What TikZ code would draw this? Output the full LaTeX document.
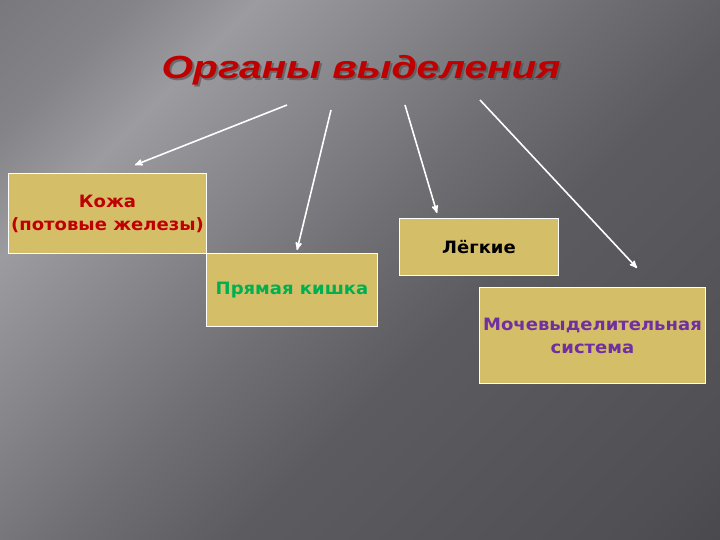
\documentclass[tikz,border=0pt]{standalone}
\usepackage{fontspec}
\setmainfont{DejaVu Sans}
\newfontfamily\titlefont[FakeStretch=1.27]{Liberation Sans}
\newfontfamily\boxfont[FakeStretch=1.06]{DejaVu Sans}
\usetikzlibrary{arrows}

\definecolor{boxfill}{RGB}{212,190,104}
\definecolor{skinred}{RGB}{192,0,0}
\definecolor{gutgreen}{RGB}{0,176,80}
\definecolor{urinepurple}{RGB}{112,48,160}
\definecolor{bgA}{RGB}{58,58,62}
\definecolor{bgB}{RGB}{80,80,84}
\definecolor{bgC}{RGB}{92,92,96}
\definecolor{bgD}{RGB}{112,112,116}
\definecolor{bgE}{RGB}{140,140,144}
\definecolor{bgF}{RGB}{156,156,160}
\definecolor{bgG}{RGB}{132,132,136}
\definecolor{bgH}{RGB}{100,100,104}

\pgfdeclareverticalshading{slidebg}{100bp}{color(0bp)=(bgA); color(20bp)=(bgB);
  color(42bp)=(bgC); color(52bp)=(bgD); color(64bp)=(bgE); color(71bp)=(bgF);
  color(78bp)=(bgG); color(100bp)=(bgH)}

\begin{document}
\begin{tikzpicture}[x=1pt,y=-1pt,
                    main node/.style={draw=white,line width=1pt,fill=boxfill,
                      anchor=north west,align=center,inner sep=0pt,
                      font=\boxfont\bfseries\fontsize{17}{23}\selectfont},
                    link/.style={draw=white,line width=1.6pt,-stealth'}]

  % slide background
  \shade[shading=slidebg,shading angle=45] (0,0) rectangle (720,540);
  \useasboundingbox (0,0) rectangle (720,540);

  % title with its shadow
  \node[text=black!70,opacity=0.6,font=\titlefont\bfseries\itshape\fontsize{32}{34}\selectfont]
    at (363,72) {Органы выделения};
  \node[text=skinred,font=\titlefont\bfseries\itshape\fontsize{32}{34}\selectfont]
    (title) at (361,70) {Органы выделения};

  \node[main node,minimum width=198pt,minimum height=80pt,text=skinred]
    (1) at (8,173) {Кожа\\(потовые железы)};
  \node[main node,minimum width=171pt,minimum height=73pt,text=gutgreen]
    (2) at (206,253) {Прямая кишка};
  \node[main node,minimum width=159pt,minimum height=57pt,text=black]
    (3) at (399,218) {Лёгкие};
  \node[main node,minimum width=226pt,minimum height=96pt,text=urinepurple]
    (4) at (479,287) {Мочевыделительная\\система};

  \coordinate (s1) at (287,105);
  \coordinate (s2) at (331,110);
  \coordinate (s3) at (405,105);
  \coordinate (s4) at (480,100);
  \coordinate (e1) at (135,165);
  \coordinate (e2) at (297,250);
  \coordinate (e3) at (437,213);
  \coordinate (e4) at (637,268);

  \draw[link] (s1) -- (e1);
  \draw[link] (s2) -- (e2);
  \draw[link] (s3) -- (e3);
  \draw[link] (s4) -- (e4);
\end{tikzpicture}
\end{document}
